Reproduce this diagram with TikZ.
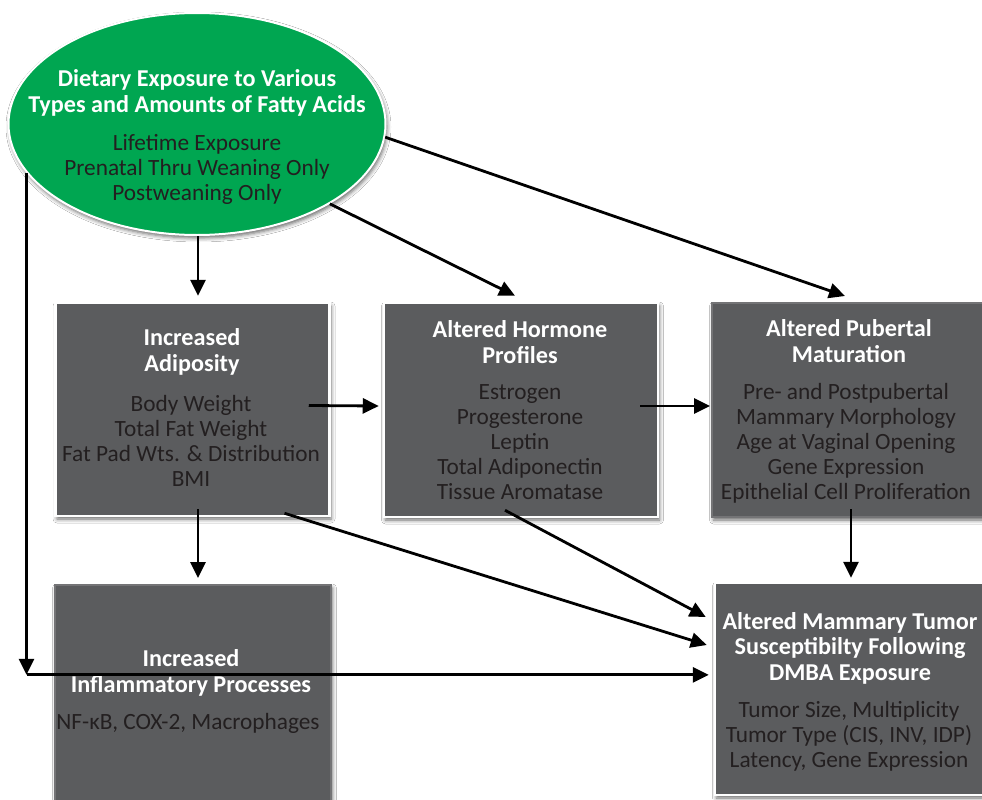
\documentclass[tikz,border=0pt]{standalone}
\usepackage{fontspec}
\setmainfont{Carlito}
\usetikzlibrary{arrows.meta,shadows.blur,shapes.geometric,calc}
\definecolor{boxgrey}{HTML}{5B5C5E}
\definecolor{egreen}{HTML}{00A651}
\definecolor{txt}{HTML}{231F20}
\begin{document}
\begin{tikzpicture}[x=1pt,y=-1pt,
  box/.style={rectangle,fill=boxgrey,draw=white,line width=2.5pt,inner sep=0pt,
    blur shadow={shadow xshift=1.5pt,shadow yshift=-3pt,shadow blur radius=4pt,shadow opacity=60}},
  softbox/.style={rectangle,fill=boxgrey,draw=boxgrey!85!white,line width=2pt,inner sep=0pt,
    blur shadow={shadow xshift=1.5pt,shadow yshift=-3pt,shadow blur radius=4pt,shadow opacity=60}},
  ell/.style={ellipse,fill=egreen,draw=white,line width=2pt,inner sep=0pt,
    blur shadow={shadow xshift=1.5pt,shadow yshift=-3pt,shadow blur radius=4pt,shadow opacity=60}},
  ttl/.style={text=white,font=\bfseries\fontsize{24.2}{25.5}\selectfont,align=center,inner sep=0pt},
  body/.style={text=txt,font=\fontsize{23.3}{25}\selectfont,align=center,inner sep=0pt},
  arr/.style={draw=black,line width=2.8pt,-{Triangle[length=16pt,width=15pt]}}]
\useasboundingbox (0,0) rectangle (982,800);
\fill[white] (0,0) rectangle (982,800);

% boxes
\node[ell,minimum width=377pt,minimum height=222pt] (diet) at (197,124) {};
\node[box,minimum width=274pt,minimum height=213pt] (adip) at (192.5,409.5) {};
\node[box,minimum width=274pt,minimum height=214pt] (horm) at (521,410) {};
\node[softbox,minimum width=272pt,minimum height=214pt] (pub) at (848,410) {};
\node[softbox,minimum width=276pt,minimum height=220pt] (infl) at (193,695) {};
\node[box,minimum width=270pt,minimum height=212pt] (tum) at (850,689) {};

% texts
\node[ttl] (dietT) at (197,93) {Dietary Exposure to Various\\Types and Amounts of Fatty Acids};
\node[body] (dietB) at (197,169) {Lifetime Exposure\\Prenatal Thru Weaning Only\\Postweaning Only};

\node[ttl] (adipT) at (192,352) {Increased\\Adiposity};
\node[body] (adipB) at (191,441) {Body Weight\\Total Fat Weight\\Fat Pad Wts. \& Distribution\\BMI};

\node[ttl] (hormT) at (520,342) {Altered Hormone\\Profiles};
\node[body] (hormB) at (520,442) {Estrogen\\Progesterone\\Leptin\\Total Adiponectin\\Tissue Aromatase};

\node[ttl] (pubT) at (849,341) {Altered Pubertal\\Maturation};
\node[body] (pubB) at (846,443) {Pre- and Postpubertal\\Mammary Morphology\\Age at Vaginal Opening\\Gene Expression\\Epithelial Cell Proliferation};

\node[ttl] (tumT) at (850,648) {Altered Mammary Tumor\\Susceptibilty Following\\DMBA Exposure};
\node[body] (tumB) at (849,736) {Tumor Size, Multiplicity\\Tumor Type (CIS, INV, IDP)\\Latency, Gene Expression};

\node[ttl] (inflT) at (191,673) {Increased\\Inflammatory Processes};
\node[body] (inflB) at (188,723) {NF-κB, COX-2, Macrophages};

% connectors
\coordinate (corner) at ($(diet.196)+(0,-502pt)$);
\draw[arr] (diet.196) -- (corner);
\draw[arr,shorten >=5pt] (corner) -- (tum.west |- corner);

\draw[arr] (diet.south -| 198,0) -- ([xshift=5.5pt,yshift=6pt]adip.north);
\draw[arr] (diet.-31) -- ([xshift=-6pt,yshift=6pt]horm.north);
\draw[arr] (diet.-4) -- ([xshift=-3pt,yshift=6pt]pub.north);

\draw[arr] ([xshift=-22pt,yshift=4pt]adip.east) -- ([xshift=-4pt,yshift=4pt]horm.west);
\draw[arr] ([xshift=-19pt,yshift=4pt]horm.east) -- ([xshift=-1pt,yshift=4pt]pub.west);

\draw[arr] ([xshift=5.5pt,yshift=8pt]adip.south) -- ([xshift=5pt,yshift=6pt]infl.north);
\draw[arr] ([xshift=92pt,yshift=4pt]adip.south) -- ([xshift=-7pt,yshift=44pt]tum.west);
\draw[arr] ([xshift=-16pt,yshift=8pt]horm.south) -- ([xshift=-8pt,yshift=72pt]tum.west);
\draw[arr] ([xshift=3pt,yshift=9pt]pub.south) -- ([xshift=1pt,yshift=4pt]tum.north);
\end{tikzpicture}
\end{document}
